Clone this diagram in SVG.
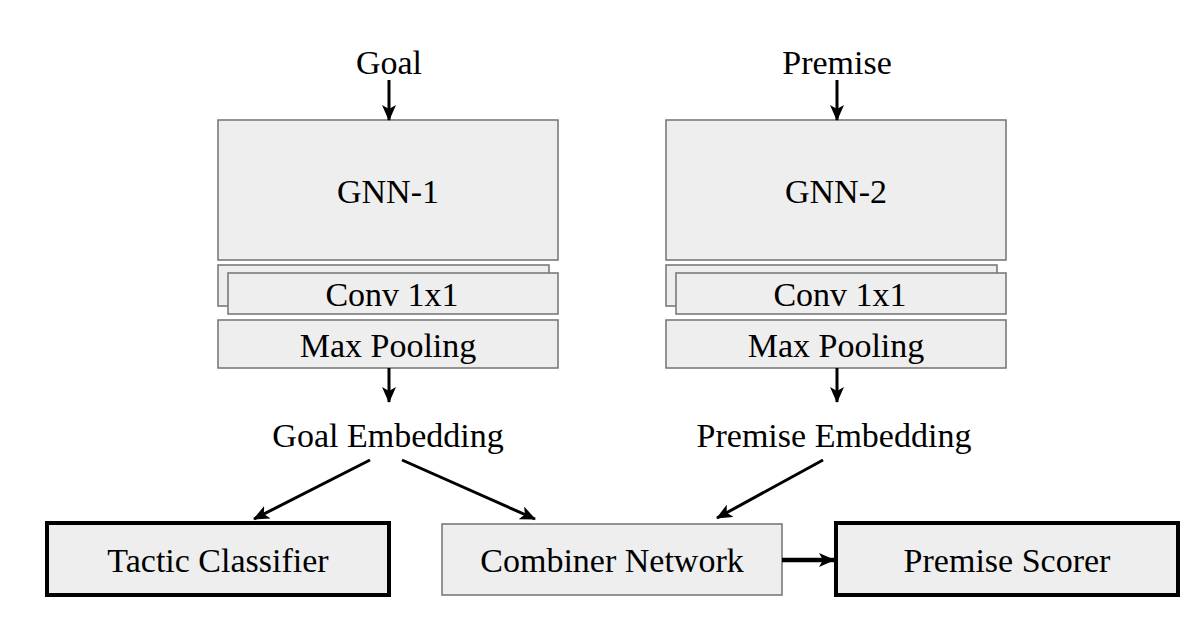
<svg xmlns="http://www.w3.org/2000/svg" width="1194" height="620" viewBox="0 0 1194 620">
<style>
text{font-family:"Liberation Serif","DejaVu Serif",serif;font-size:34px;fill:#000;text-anchor:middle}
.box{fill:#eeeeee;stroke:#7a7a7a;stroke-width:1.6}
.tbox{fill:#eeeeee;stroke:#000;stroke-width:4}
.ar{stroke:#000;stroke-width:3;fill:none;marker-end:url(#ah)}
.ar2{stroke:#000;stroke-width:4.5;fill:none;marker-end:url(#ah)}
</style>
<defs>
<marker id="ah" viewBox="0 0 16 14" refX="15" refY="7" markerWidth="16" markerHeight="14" markerUnits="userSpaceOnUse" orient="auto">
<path d="M0,0 L16,7 L0,14 L4,7 Z" fill="#000"/>
</marker>
</defs>
<rect width="1194" height="620" fill="#fff"/>
<g id="goal-input"><text x="389" y="74">Goal</text></g>
<g id="premise-input"><text x="837" y="74">Premise</text></g>
<g id="gnn1"><rect class="box" x="218" y="120" width="340" height="140"/><text x="388" y="203">GNN-1</text></g>
<g id="conv1"><rect class="box" x="218" y="265" width="331" height="41"/><rect class="box" x="228" y="273" width="330" height="41"/><text x="392" y="306">Conv 1x1</text></g>
<g id="pool1"><rect class="box" x="218" y="320" width="340" height="48"/><text x="388" y="357">Max Pooling</text></g>
<g id="gnn2"><rect class="box" x="666" y="120" width="340" height="140"/><text x="836" y="203">GNN-2</text></g>
<g id="conv2"><rect class="box" x="666" y="265" width="331" height="41"/><rect class="box" x="676" y="273" width="330" height="41"/><text x="840" y="306">Conv 1x1</text></g>
<g id="pool2"><rect class="box" x="666" y="320" width="340" height="48"/><text x="836" y="357">Max Pooling</text></g>
<g id="goal-emb"><text x="388" y="447">Goal Embedding</text></g>
<g id="premise-emb"><text x="834" y="447">Premise Embedding</text></g>
<g id="tactic"><rect class="tbox" x="47" y="523" width="342" height="72"/><text x="218" y="572">Tactic Classifier</text></g>
<g id="combiner"><rect class="box" x="442" y="524" width="340" height="71"/><text x="612" y="572">Combiner Network</text></g>
<g id="scorer"><rect class="tbox" x="836" y="523" width="342" height="72"/><text x="1007" y="572">Premise Scorer</text></g>
<g id="connectors">
<line class="ar" x1="389" y1="80" x2="389" y2="120"/>
<line class="ar" x1="837" y1="80" x2="837" y2="120"/>
<line class="ar" x1="389" y1="368" x2="389" y2="402"/>
<line class="ar" x1="837" y1="368" x2="837" y2="402"/>
<line class="ar" x1="370" y1="460" x2="254" y2="519"/>
<line class="ar" x1="402" y1="460" x2="535" y2="519"/>
<line class="ar" x1="823" y1="460" x2="717" y2="518"/>
<line class="ar2" x1="782" y1="560" x2="834" y2="560"/>
</g>
</svg>
